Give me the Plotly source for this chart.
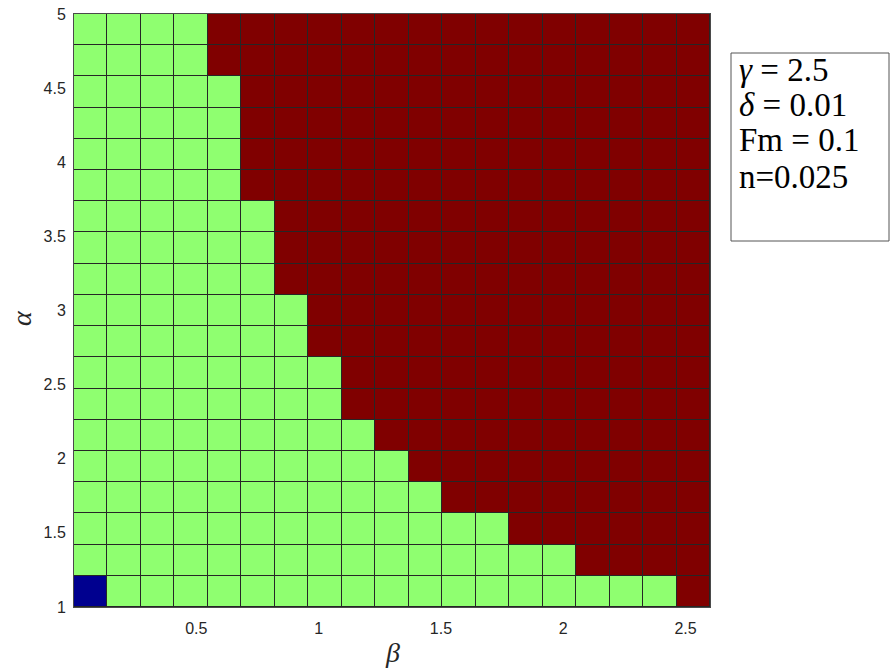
import plotly.graph_objects as go

# Cell edges (pcolor grid)
beta_edges = [0.0, 0.1368, 0.2737, 0.4105, 0.5474, 0.6842, 0.8211, 0.9579, 1.0947, 1.2316,
              1.3684, 1.5053, 1.6421, 1.7789, 1.9158, 2.0526, 2.1895, 2.3263, 2.4632, 2.6]
alpha_edges = [1.0, 1.2105, 1.4211, 1.6316, 1.8421, 2.0526, 2.2632, 2.4737, 2.6842, 2.8947,
               3.1053, 3.3158, 3.5263, 3.7368, 3.9474, 4.1579, 4.3684, 4.5789, 4.7895, 5.0]

# State per cell (rows from alpha=1 upward): 0 = blue, 1 = green, 2 = dark red
state = [
    [0, 1, 1, 1, 1, 1, 1, 1, 1, 1, 1, 1, 1, 1, 1, 1, 1, 1, 2],
    [1, 1, 1, 1, 1, 1, 1, 1, 1, 1, 1, 1, 1, 1, 1, 2, 2, 2, 2],
    [1, 1, 1, 1, 1, 1, 1, 1, 1, 1, 1, 1, 1, 2, 2, 2, 2, 2, 2],
    [1, 1, 1, 1, 1, 1, 1, 1, 1, 1, 1, 2, 2, 2, 2, 2, 2, 2, 2],
    [1, 1, 1, 1, 1, 1, 1, 1, 1, 1, 2, 2, 2, 2, 2, 2, 2, 2, 2],
    [1, 1, 1, 1, 1, 1, 1, 1, 1, 2, 2, 2, 2, 2, 2, 2, 2, 2, 2],
    [1, 1, 1, 1, 1, 1, 1, 1, 2, 2, 2, 2, 2, 2, 2, 2, 2, 2, 2],
    [1, 1, 1, 1, 1, 1, 1, 1, 2, 2, 2, 2, 2, 2, 2, 2, 2, 2, 2],
    [1, 1, 1, 1, 1, 1, 1, 2, 2, 2, 2, 2, 2, 2, 2, 2, 2, 2, 2],
    [1, 1, 1, 1, 1, 1, 1, 2, 2, 2, 2, 2, 2, 2, 2, 2, 2, 2, 2],
    [1, 1, 1, 1, 1, 1, 2, 2, 2, 2, 2, 2, 2, 2, 2, 2, 2, 2, 2],
    [1, 1, 1, 1, 1, 1, 2, 2, 2, 2, 2, 2, 2, 2, 2, 2, 2, 2, 2],
    [1, 1, 1, 1, 1, 1, 2, 2, 2, 2, 2, 2, 2, 2, 2, 2, 2, 2, 2],
    [1, 1, 1, 1, 1, 2, 2, 2, 2, 2, 2, 2, 2, 2, 2, 2, 2, 2, 2],
    [1, 1, 1, 1, 1, 2, 2, 2, 2, 2, 2, 2, 2, 2, 2, 2, 2, 2, 2],
    [1, 1, 1, 1, 1, 2, 2, 2, 2, 2, 2, 2, 2, 2, 2, 2, 2, 2, 2],
    [1, 1, 1, 1, 1, 2, 2, 2, 2, 2, 2, 2, 2, 2, 2, 2, 2, 2, 2],
    [1, 1, 1, 1, 2, 2, 2, 2, 2, 2, 2, 2, 2, 2, 2, 2, 2, 2, 2],
    [1, 1, 1, 1, 2, 2, 2, 2, 2, 2, 2, 2, 2, 2, 2, 2, 2, 2, 2],
]

x_ticks = [0.5, 1, 1.5, 2, 2.5]
x_ticklabels = ["0.5", "1", "1.5", "2", "2.5"]
y_ticks = [1, 1.5, 2, 2.5, 3, 3.5, 4, 4.5, 5]
y_ticklabels = ["1", "1.5", "2", "2.5", "3", "3.5", "4", "4.5", "5"]

param_lines = ["<i>γ</i> = 2.5", "<i>δ</i> = 0.01", "Fm = 0.1", "n=0.025"]

colors = ["#00008F", "#8FFF70", "#800000"]

fig = go.Figure()
fig.add_trace(go.Heatmap(
    x=beta_edges, y=alpha_edges, z=state,
    zmin=0, zmax=2,
    colorscale=[[0, colors[0]], [0.5, colors[1]], [1, colors[2]]],
    showscale=False, xgap=1, ygap=1, hoverinfo="skip",
))

W, H = 892, 669
L, R, T, B = 74, 710, 14, 607
pw, ph = R - L, B - T

def px(x):
    return (x - L) / pw

def py(y):
    return (B - y) / ph

tickfont = dict(family="Liberation Sans, Arial, sans-serif", size=16, color="#262626")
axis_common = dict(showgrid=False, zeroline=False, showline=True, mirror=True,
                   linecolor="#4a4a4a", linewidth=1, ticks="", tickfont=tickfont,
                   automargin=False)

fig.update_layout(
    width=W, height=H,
    margin=dict(l=L, r=W - R, t=T, b=H - B, pad=0, autoexpand=False),
    paper_bgcolor="white", plot_bgcolor="#262626",
    showlegend=False,
    xaxis=dict(range=[0, 2.6], tickvals=x_ticks, ticktext=x_ticklabels,
               ticklabelstandoff=7, **axis_common),
    yaxis=dict(range=[1, 5], tickvals=y_ticks, ticktext=y_ticklabels,
               ticklabelstandoff=4, **axis_common),
)

serif = "Liberation Serif, Times New Roman, serif"
# axis labels
fig.add_annotation(text="<i>β</i>", xref="paper", yref="paper", x=0.5, y=py(652),
                   showarrow=False, font=dict(family=serif, size=28, color="#262626"),
                   xanchor="center", yanchor="middle")
fig.add_annotation(text="<i>α</i>", xref="paper", yref="paper", x=px(21), y=py(318),
                   showarrow=False, textangle=-90,
                   font=dict(family=serif, size=28, color="#262626"),
                   xanchor="center", yanchor="middle")

# parameter box
fig.add_shape(type="rect", xref="paper", yref="paper",
              x0=px(731), x1=px(889), y0=py(241), y1=py(53),
              line=dict(color="#555555", width=1), fillcolor="white", layer="above")
line_y = [70, 105, 140, 177]
for txt, yy in zip(param_lines, line_y):
    fig.add_annotation(text=txt, xref="paper", yref="paper", x=px(737), y=py(yy),
                       showarrow=False, xanchor="left", yanchor="middle",
                       font=dict(family=serif, size=33, color="black"))

fig.write_html("out.html", config={"displayModeBar": False},
               post_script="document.body.style.margin='0';")
